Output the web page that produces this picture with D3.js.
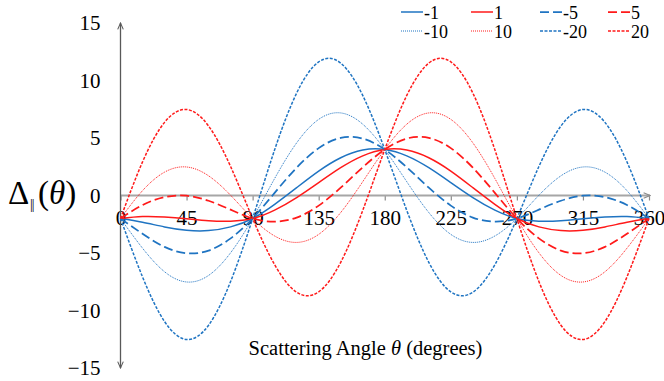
<!DOCTYPE html>
<html>
<head>
<meta charset="utf-8">
<script src="https://cdn.jsdelivr.net/npm/d3@7"></script>
<style>
  body { margin: 0; background: #fff; }
  svg text { font-family: "Liberation Serif", "DejaVu Serif", serif; fill: #000; }
</style>
</head>
<body>
<svg id="chart" width="664" height="381"></svg>
<script>
// scattering angle samples (degrees)
const angles = [0, 15, 30, 45, 60, 75, 90, 105, 120, 135, 150, 165, 180,
                195, 210, 225, 240, 255, 270, 285, 300, 315, 330, 345, 360];
const xTicks = [0, 45, 90, 135, 180, 225, 270, 315, 360];
const yTicks = [-15, -10, -5, 0, 5, 10, 15];
const seriesNames = ["-1", "1", "-5", "5", "-10", "10", "-20", "20"];

// values
const sNeg1  = [-2.00, -2.33, -2.73, -3.02, -3.05, -2.73, -2.00, -0.77, 0.68, 2.12, 3.28, 3.95, 4.00,
                3.45, 2.42, 1.12, -0.18, -1.27, -2.00, -2.23, -2.19, -2.02, -1.87, -1.83, -2.00];
const sPos1  = [-2.00, -1.83, -1.87, -2.02, -2.19, -2.23, -2.00, -1.27, -0.18, 1.12, 2.42, 3.45, 4.00,
                3.95, 3.28, 2.12, 0.68, -0.77, -2.00, -2.73, -3.05, -3.02, -2.73, -2.33, -2.00];
const sNeg5  = [-2.00, -3.33, -4.47, -5.02, -4.79, -3.73, -2.00, 0.23, 2.42, 4.12, 5.01, 4.95, 4.00,
                2.45, 0.68, -0.88, -1.92, -2.27, -2.00, -1.23, -0.46, -0.02, -0.14, -0.83, -2.00];
const sPos5  = [-2.00, -0.83, -0.14, -0.02, -0.46, -1.23, -2.00, -2.27, -1.92, -0.88, 0.68, 2.45, 4.00,
                4.95, 5.01, 4.12, 2.42, 0.23, -2.00, -3.73, -4.79, -5.02, -4.47, -3.33, -2.00];
const sNeg10 = [-2.00, -4.58, -6.63, -7.52, -6.95, -4.98, -2.00, 1.48, 4.58, 6.62, 7.18, 6.20, 4.00,
                1.20, -1.48, -3.38, -4.08, -3.52, -2.00, 0.02, 1.71, 2.48, 2.03, 0.42, -2.00];
const sPos10 = [-2.00, 0.42, 2.03, 2.48, 1.71, 0.02, -2.00, -3.52, -4.08, -3.38, -1.48, 1.20, 4.00,
                6.20, 7.18, 6.62, 4.58, 1.48, -2.00, -4.98, -6.95, -7.52, -6.63, -4.58, -2.00];
const sNeg20 = [-2.00, -7.08, -10.96, -12.52, -11.28, -7.48, -2.00, 3.98, 8.91, 11.62, 11.51, 8.70, 4.00,
                -1.30, -5.81, -8.38, -8.41, -6.02, -2.00, 2.52, 6.04, 7.48, 6.36, 2.92, -2.00];
const sPos20 = [-2.00, 2.92, 6.36, 7.48, 6.04, 2.52, -2.00, -6.02, -8.41, -8.38, -5.81, -1.30, 4.00,
                8.70, 11.51, 11.62, 8.91, 3.98, -2.00, -7.48, -11.28, -12.52, -10.96, -7.08, -2.00];

const seriesValues = [sNeg1, sPos1, sNeg5, sPos5, sNeg10, sPos10, sNeg20, sPos20];

const FONT = '"Liberation Serif", "DejaVu Serif", serif';
const BLUE = "#1f74c2", RED = "#ff1a1a";
const lineStyle = {
  "-1":  {color: BLUE, width: 1.5,  dash: null},
  "1":   {color: RED,  width: 1.5,  dash: null},
  "-5":  {color: BLUE, width: 1.75, dash: "9,4"},
  "5":   {color: RED,  width: 1.75, dash: "9,4"},
  "-10": {color: BLUE, width: 1,    dash: "1,1"},
  "10":  {color: RED,  width: 1,    dash: "1,1"},
  "-20": {color: BLUE, width: 1.5,  dash: "3,1.5"},
  "20":  {color: RED,  width: 1.5,  dash: "3,1.5"}
};

const svg = d3.select("#chart");

const x = d3.scaleLinear().domain([0, 360]).range([120.5, 649]);
const y = d3.scaleLinear().domain([-15, 15]).range([368, 23]);

// arrow heads
const defs = svg.append("defs");
function chevron(id, color) {
  defs.append("marker")
    .attr("id", id)
    .attr("markerUnits", "userSpaceOnUse")
    .attr("viewBox", "0 0 10 10")
    .attr("refX", 9).attr("refY", 5)
    .attr("markerWidth", 8).attr("markerHeight", 8)
    .attr("orient", "auto-start-reverse")
    .append("path")
    .attr("d", "M1,1.5 L9,5 L1,8.5")
    .attr("fill", "none")
    .attr("stroke", color)
    .attr("stroke-width", 1.3);
}
chevron("arrY", "#595959");
chevron("arrX", "#8c8c8c");

// x axis (horizontal line at y = 0)
const xAxis = svg.append("g")
  .attr("transform", `translate(0,${y(0)})`)
  .call(d3.axisBottom(x).tickValues(xTicks).tickSize(5).tickSizeOuter(0).tickPadding(10))
  .attr("font-family", FONT)
  .attr("font-size", 21);
xAxis.select(".domain").remove();
xAxis.selectAll(".tick line").attr("stroke", "#8c8c8c").attr("stroke-width", 1.2);
xAxis.selectAll(".tick text").attr("fill", "#000");
svg.append("line")
  .attr("x1", x(0)).attr("x2", x(360) + 1)
  .attr("y1", y(0)).attr("y2", y(0))
  .attr("stroke", "#a6a6a6").attr("stroke-width", 2)
  .attr("marker-end", "url(#arrX)");

// y axis
const yAxis = svg.append("g")
  .attr("transform", `translate(${x(0)},0)`)
  .call(d3.axisLeft(y).tickValues(yTicks).tickSize(0).tickPadding(20))
  .attr("font-family", FONT)
  .attr("font-size", 21);
yAxis.select(".domain").remove();
yAxis.selectAll(".tick text").attr("fill", "#000");
svg.append("line")
  .attr("x1", x(0)).attr("x2", x(0))
  .attr("y1", y(-15)).attr("y2", y(15))
  .attr("stroke", "#595959").attr("stroke-width", 1.3)
  .attr("marker-start", "url(#arrY)")
  .attr("marker-end", "url(#arrY)");

// curves
const line = d3.line()
  .x((d, i) => x(angles[i]))
  .y(d => y(d))
  .curve(d3.curveNatural);

svg.append("g").selectAll("path")
  .data(seriesNames)
  .join("path")
  .attr("d", (name, i) => line(seriesValues[i]))
  .attr("fill", "none")
  .attr("stroke", name => lineStyle[name].color)
  .attr("stroke-width", name => lineStyle[name].width)
  .attr("stroke-dasharray", name => lineStyle[name].dash);

// legend, 4 columns x 2 rows
const legCols = [401, 471, 540, 608];
const legRows = [12, 31];
const legend = svg.append("g").selectAll("g")
  .data(seriesNames)
  .join("g")
  .attr("transform", (d, i) => `translate(${legCols[i % 4]},${legRows[Math.floor(i / 4)]})`);
legend.append("line")
  .attr("x1", 0).attr("x2", 22)
  .attr("stroke", d => lineStyle[d].color)
  .attr("stroke-width", d => lineStyle[d].width)
  .attr("stroke-dasharray", d => lineStyle[d].dash);
legend.append("text")
  .attr("x", 23).attr("y", 6.5)
  .attr("font-size", 18)
  .text(d => d);

// axis titles
const yTitle = svg.append("text").attr("y", 204).attr("font-size", 33);
yTitle.append("tspan").attr("x", 8).text("Δ");
yTitle.append("tspan").attr("x", 30).attr("y", 209)
  .attr("font-size", 14).attr("letter-spacing", -1).text("||");
yTitle.append("tspan").attr("x", 38).attr("y", 204).text("(");
yTitle.append("tspan").attr("font-style", "italic").text("θ");
yTitle.append("tspan").text(")");

const xTitle = svg.append("text")
  .attr("x", 365.5).attr("y", 355)
  .attr("text-anchor", "middle")
  .attr("font-size", 20.5);
xTitle.append("tspan").text("Scattering Angle ");
xTitle.append("tspan").attr("font-style", "italic").text("θ");
xTitle.append("tspan").text(" (degrees)");
</script>
</body>
</html>
